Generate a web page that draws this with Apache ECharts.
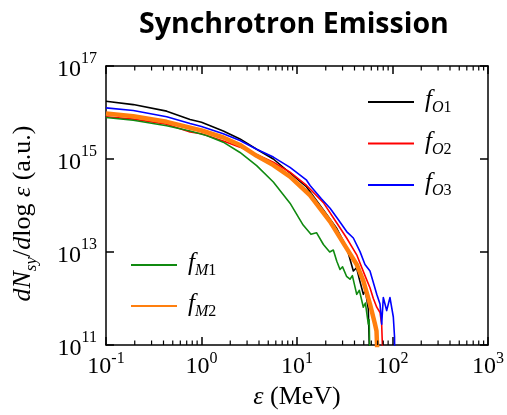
<!DOCTYPE html>
<html>
<head>
<meta charset="utf-8">
<script src="https://cdn.jsdelivr.net/npm/echarts@6/dist/echarts.min.js"></script>
<style>
  html, body { margin: 0; padding: 0; background: #fff; }
  #chart { width: 507px; height: 415px; }
</style>
</head>
<body>
<div id="chart"></div>
<script>
// Axis ranges (MeV on x, counts per log-energy on y)
const energyRange = [0.1, 1000];
const countRange = [1e11, 1e17];

// Spectra: [photon energy (MeV), dN_sy/dlog(eps)]
const fO1 = [
  [0.1, 1.74e16], [0.193, 1.48e16], [0.432, 1.07e16], [0.759, 7.1e15], [1.0, 6.2e15],
  [1.69, 4.0e15], [2.53, 2.7e15], [3.78, 1.62e15], [5.65, 1.0e15], [8.45, 5.0e14],
  [12.6, 2.5e14], [18.9, 8.0e13], [26.1, 3.2e13], [33.1, 1.26e13], [38.9, 3.9e12],
  [42.0, 4.6e12], [45.0, 2.6e12], [49.5, 1.23e12], [52.0, 1.5e12], [55.8, 5.9e11],
  [58.0, 3e10]
];
const fO2 = [
  [0.1, 8.1e15], [0.193, 7.2e15], [0.432, 5.6e15], [0.759, 3.8e15], [1.0, 3.5e15],
  [1.69, 2.45e15], [2.53, 1.8e15], [3.78, 1.25e15], [5.65, 8.5e14], [8.45, 5.2e14],
  [12.6, 2.7e14], [18.9, 1.15e14], [26.1, 4.2e13], [33.1, 2.0e13], [42.2, 8.7e12],
  [51.5, 3.1e12], [58.1, 1.7e12], [63.0, 1.0e12], [68.4, 6.5e11], [74.0, 5.0e11],
  [77.0, 2.8e11], [80.0, 3e10]
];
const fO3 = [
  [0.1, 1.26e16], [0.193, 1.1e16], [0.432, 8.1e15], [0.759, 5.8e15], [1.0, 5.0e15],
  [1.69, 3.5e15], [2.53, 2.5e15], [3.78, 1.62e15], [5.65, 1.1e15], [8.45, 6.6e14],
  [12.6, 3.5e14], [13.7, 2.7e14], [18.0, 1.4e14], [22.2, 8.7e13], [27.0, 5.0e13],
  [33.1, 2.75e13], [38.9, 2.0e13], [45.7, 1.02e13], [51.5, 5.4e12], [58.1, 3.9e12],
  [63.0, 2.2e12], [68.4, 1.23e12], [74.0, 7.6e11], [77.1, 2.8e11], [80.1, 1.05e12],
  [86.9, 5.5e11], [94.1, 1.05e12], [98.1, 1.0e12], [102.0, 4.0e11], [105.0, 1.5e11],
  [106.0, 3e10]
];
const fM1 = [
  [0.1, 7.8e15], [0.193, 6.8e15], [0.432, 5.2e15], [0.759, 4.0e15], [1.13, 3.2e15],
  [1.69, 2.3e15], [2.53, 1.38e15], [3.78, 7.2e14], [5.65, 3.2e14], [8.45, 1.12e14],
  [11.6, 3.8e13], [14.0, 2.4e13], [16.0, 2.6e13], [18.9, 1.45e13], [22.0, 1.0e13],
  [24.0, 1.1e13], [26.1, 6.3e12], [28.2, 4.2e12], [30.0, 4.8e12], [33.0, 3.0e12],
  [35.9, 2.6e12], [38.0, 3.1e12], [42.2, 1.23e12], [45.0, 1.5e12], [49.5, 6.5e11],
  [52.0, 8.0e11], [55.8, 2.8e11], [57.0, 3.5e11], [58.1, 3e10]
];
const fM2 = [
  [0.1, 9.5e15], [0.193, 8.3e15], [0.432, 6.3e15], [0.759, 4.7e15], [1.0, 4.1e15],
  [1.69, 2.9e15], [2.53, 2.0e15], [3.78, 1.17e15], [5.65, 7.4e14], [8.45, 4.2e14],
  [13.7, 1.66e14], [22.2, 4.5e13], [33.1, 1.2e13], [42.2, 5.4e12], [49.5, 2.4e12],
  [58.1, 7.6e11], [65.6, 2.8e11], [68.0, 2.0e11], [70.5, 3e10]
];

const seriesNames = ['fO1', 'fO2', 'fO3', 'fM1', 'fM2'];
const seriesData = [fO1, fO2, fO3, fM1, fM2];
const seriesColors = ['#000000', '#ff0000', '#0000ff', '#108a10', '#ff7f0e'];
const seriesWidths = [1.6, 1.6, 1.6, 1.6, 4.5];

// Minor ticks at 2..9 within each decade of the energy axis
const minorMultipliers = [2, 3, 4, 5, 6, 7, 8, 9];
const minorDecades = [0.1, 1, 10, 100];
const minorTickEnergies = [];
minorDecades.forEach(d => minorMultipliers.forEach(m => minorTickEnergies.push(+(d * m).toPrecision(3))));

const serif = 'Liberation Serif';
const AXIS = '#000';

function powerLabel(v) {
  const e = Math.round(Math.log10(v));
  return '{b|10}{p|' + e + '}';
}

const tickRichX = {
  b: { fontFamily: serif, fontSize: 24, lineHeight: 28, verticalAlign: 'bottom', color: '#000' },
  p: { fontFamily: serif, fontSize: 16, lineHeight: 16, verticalAlign: 'top', color: '#000' }
};
const tickRichY = {
  b: { fontFamily: serif, fontSize: 24, lineHeight: 31, verticalAlign: 'bottom', color: '#000' },
  p: { fontFamily: serif, fontSize: 16, lineHeight: 16, verticalAlign: 'top', color: '#000' }
};

const legendRich = {
  f: { fontFamily: serif, fontStyle: 'italic', fontSize: 25, lineHeight: 28, verticalAlign: 'top', color: '#000', padding: [0, 0, 0, 6] },
  o: { fontFamily: serif, fontStyle: 'italic', fontSize: 16, lineHeight: 28, verticalAlign: 'bottom', color: '#000' },
  d: { fontFamily: serif, fontSize: 16, lineHeight: 28, verticalAlign: 'bottom', color: '#000' }
};
function legendLabel(name) {
  return '{f|f}{o|' + name.charAt(1) + '}{d|' + name.charAt(2) + '}';
}

// Short inward ticks on the bottom and top frame edges at each minor energy
function renderMinorTick(params, api) {
  const e = api.value(0);
  const bottom = api.coord([e, countRange[0]]);
  const top = api.coord([e, countRange[1]]);
  const len = 4.5;
  return {
    type: 'group',
    children: [
      { type: 'line', shape: { x1: bottom[0], y1: bottom[1], x2: bottom[0], y2: bottom[1] - len }, style: { stroke: AXIS, lineWidth: 1.2 } },
      { type: 'line', shape: { x1: top[0], y1: top[1], x2: top[0], y2: top[1] + len }, style: { stroke: AXIS, lineWidth: 1.2 } }
    ]
  };
}

const chart = echarts.init(document.getElementById('chart'), null, { renderer: 'canvas' });

const baseLogX = {
  type: 'log', logBase: 10, min: energyRange[0], max: energyRange[1],
  axisLine: { show: true, onZero: false, lineStyle: { color: AXIS, width: 1.5 } },
  axisTick: { show: true, inside: true, length: 8, lineStyle: { color: AXIS, width: 1.5 } },
  splitLine: { show: false }
};
const baseLogY = {
  type: 'log', logBase: 10, min: countRange[0], max: countRange[1], interval: 2,
  axisLine: { show: true, onZero: false, lineStyle: { color: AXIS, width: 1.5 } },
  axisTick: { show: true, inside: true, length: 8, lineStyle: { color: AXIS, width: 1.5 } },
  splitLine: { show: false }
};

const lineSeries = seriesNames.map((name, i) => ({
  name: name,
  type: 'line',
  xAxisIndex: 0,
  yAxisIndex: 0,
  data: seriesData[i],
  symbol: 'none',
  showSymbol: false,
  clip: true,
  z: 2 + i,
  color: seriesColors[i],
  lineStyle: { color: seriesColors[i], width: seriesWidths[i], join: 'round' }
}));

chart.setOption({
  animation: false,
  backgroundColor: '#fff',
  title: {
    text: 'Synchrotron Emission',
    left: 139, top: 10, padding: 0,
    textStyle: { fontFamily: 'Open Sans', fontWeight: 'bold', fontSize: 28.5, color: '#000' }
  },
  grid: { left: 106, top: 66, right: 19, bottom: 67, containLabel: false },
  xAxis: [
    Object.assign({}, baseLogX, {
      position: 'bottom',
      name: '{i|ε}{n| (MeV)}',
      nameLocation: 'middle',
      nameGap: 39,
      nameTextStyle: {
        rich: {
          i: { fontFamily: serif, fontStyle: 'italic', fontSize: 26, color: '#000' },
          n: { fontFamily: serif, fontSize: 26, color: '#000' }
        }
      },
      axisLabel: { show: true, margin: 6, formatter: powerLabel, rich: tickRichX, showMinLabel: true, showMaxLabel: true }
    }),
    Object.assign({}, baseLogX, { position: 'top', axisLabel: { show: false } })
  ],
  yAxis: [
    Object.assign({}, baseLogY, {
      position: 'left',
      name: '{i|dN}{s|sy}{n|/}{i|d}{n|log }{i|ε}{n| (a.u.)}',
      nameLocation: 'middle',
      nameRotate: 90,
      nameGap: 66,
      nameTextStyle: {
        padding: [0, 16, 0, 0],
        rich: {
          i: { fontFamily: serif, fontStyle: 'italic', fontSize: 26, lineHeight: 30, verticalAlign: 'top', color: '#000' },
          n: { fontFamily: serif, fontSize: 26, lineHeight: 30, verticalAlign: 'top', color: '#000' },
          s: { fontFamily: serif, fontStyle: 'italic', fontSize: 17, lineHeight: 30, verticalAlign: 'bottom', color: '#000' }
        }
      },
      axisLabel: { show: true, margin: 9, formatter: powerLabel, rich: tickRichY, showMinLabel: true, showMaxLabel: true }
    }),
    Object.assign({}, baseLogY, { position: 'right', axisLabel: { show: false } })
  ],
  legend: [
    {
      data: ['fO1', 'fO2', 'fO3'],
      orient: 'vertical', left: 367, top: 88, padding: 0,
      itemWidth: 46, itemHeight: 14, itemGap: 13.5,
      itemStyle: { opacity: 0 },
      formatter: legendLabel,
      textStyle: { rich: legendRich },
      selectedMode: false
    },
    {
      data: ['fM1', 'fM2'],
      orient: 'vertical', left: 130, top: 251, padding: 0,
      itemWidth: 46, itemHeight: 14, itemGap: 13,
      itemStyle: { opacity: 0 },
      formatter: legendLabel,
      textStyle: { rich: legendRich },
      selectedMode: false
    }
  ],
  series: lineSeries.concat([{
    name: 'minorTicks',
    type: 'custom',
    coordinateSystem: 'cartesian2d',
    xAxisIndex: 0,
    yAxisIndex: 0,
    clip: false,
    silent: true,
    z: 10,
    data: minorTickEnergies.map(e => [e, countRange[0]]),
    encode: { x: 0, y: 1 },
    renderItem: renderMinorTick
  }])
});
</script>
</body>
</html>
